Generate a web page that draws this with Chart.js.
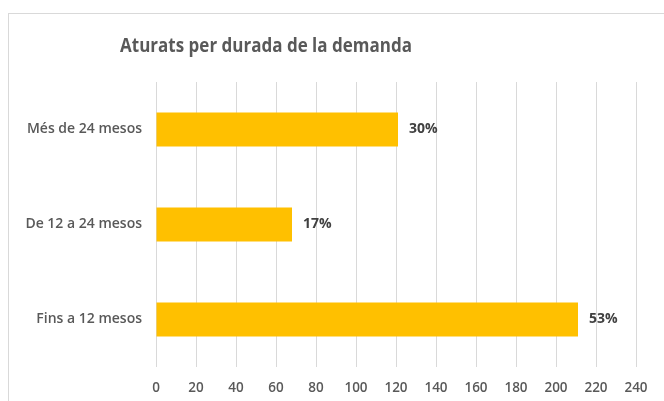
<!DOCTYPE html>
<html>
<head>
<meta charset="utf-8">
<script src="https://cdn.jsdelivr.net/npm/chart.js@4.4.0/dist/chart.umd.min.js"></script>
<style>
  html, body { margin: 0; padding: 0; background: #fff; overflow: hidden; }
  #marc { position: absolute; left: 8px; top: 13px; width: 720px; height: 440px; border: 1px solid #d9d9d9; box-sizing: border-box; }
  #caixa { position: absolute; left: 0; top: 0; width: 664px; height: 401px; }
</style>
</head>
<body>
<div id="marc"></div>
<div id="caixa"><canvas id="grafic" width="664" height="401"></canvas></div>
<script>
// dades
var categories = ['Més de 24 mesos', 'De 12 a 24 mesos', 'Fins a 12 mesos'];
var aturats = [121, 68, 211];
var ticksX = [0, 20, 40, 60, 80, 100, 120, 140, 160, 180, 200, 220, 240];

var titol = 'Aturats per durada de la demanda';

// titol dibuixat a ma (no centrat al canvas)
var pluginTitol = {
    id: 'titol',
    afterDraw: function (chart) {
        var ctx = chart.ctx;
        ctx.save();
        ctx.font = 'bold 17px "Open Sans"';
        ctx.fillStyle = '#595959';
        ctx.textAlign = 'center';
        ctx.textBaseline = 'middle';
        // una mica mes alt, com el Calibri de l'original
        ctx.translate(266, 46);
        ctx.scale(1, 1.15);
        ctx.fillText(titol, 0, 0);
        ctx.restore();
    }
};

// etiquetes de percentatge
var pluginEtiquetes = {
    id: 'etiquetes',
    afterDatasetsDraw: function (chart) {
        var ctx = chart.ctx;
        var total = aturats.reduce(function (a, b) { return a + b; }, 0);
        var meta = chart.getDatasetMeta(0);
        ctx.save();
        ctx.font = 'bold 14px "Open Sans"';
        ctx.fillStyle = '#404040';
        ctx.textAlign = 'left';
        ctx.textBaseline = 'middle';
        meta.data.forEach(function (barra, i) {
            var pct = Math.round(aturats[i] / total * 100) + '%';
            ctx.fillText(pct, barra.x + 11, barra.y);
        });
        ctx.restore();
    }
};

ctx = document.getElementById('grafic').getContext('2d');
myChart = new Chart(ctx, {
    type: 'bar',
    data: {
        labels: categories,
        datasets: [{
            label: 'Aturats',
            data: aturats,
            backgroundColor: '#FFC000',
            borderWidth: 0,
            categoryPercentage: 1,
            barPercentage: 0.36
        }]
    },
    options: {
        indexAxis: 'y',
        responsive: false,
        animation: false,
        layout: {
            padding: { top: 82, right: 28, bottom: 0, left: 0 }
        },
        plugins: {
            legend: { display: false },
            title: { display: false },
            tooltip: { enabled: false }
        },
        scales: {
            x: {
                min: 0,
                max: 240,
                afterBuildTicks: function (s) {
                    s.ticks = ticksX.map(function (v) { return { value: v }; });
                },
                afterFit: function (s) { s.height = 34; },
                grid: { color: '#d9d9d9', lineWidth: 1, drawTicks: false },
                border: { display: false },
                ticks: {
                    padding: 13,
                    color: '#595959',
                    maxRotation: 0,
                    autoSkip: false,
                    font: { family: '"Open Sans"', size: 13.5, weight: '600' }
                }
            },
            y: {
                afterFit: function (s) { s.width = 156; },
                grid: { display: false, drawTicks: false },
                border: { display: false },
                ticks: {
                    padding: 14,
                    color: '#595959',
                    autoSkip: false,
                    font: { family: '"Open Sans"', size: 14, weight: '600' }
                }
            }
        }
    },
    plugins: [pluginTitol, pluginEtiquetes]
});
</script>
</body>
</html>
